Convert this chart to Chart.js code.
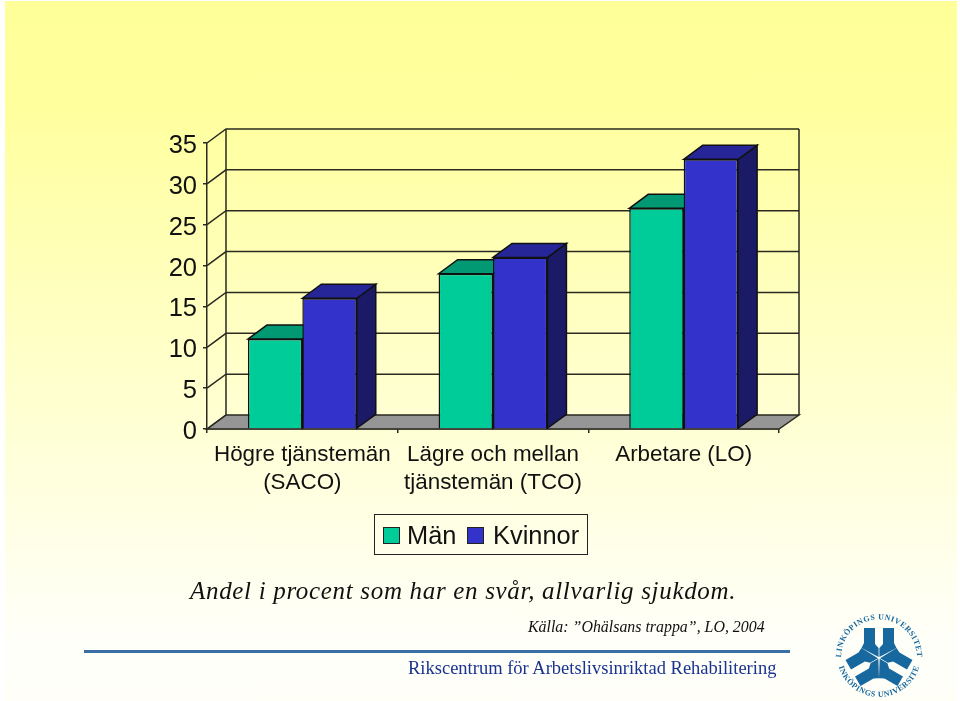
<!DOCTYPE html>
<html lang="sv">
<head>
<meta charset="utf-8">
<title>Andel i procent</title>
<script src="https://cdn.jsdelivr.net/npm/chart.js@4"></script>
<style>
  html, body { margin:0; padding:0; width:960px; height:701px; overflow:hidden; background:#fff; }
  #bg { position:absolute; left:5px; top:1px; width:952px; height:700px; background:linear-gradient(to bottom,#FFFF99 0%,#FFFF9E 15%,#FFFFFA 92%,#FFFFF8 100%); }
  canvas { position:absolute; left:0; top:0; }
  .txt { position:absolute; white-space:nowrap; line-height:1; }
  #title { left:190px; top:577px; font:italic 25px "Liberation Serif",serif; letter-spacing:0.68px; color:#111; }
  #source { left:528px; top:618px; font:italic 15.9px "Liberation Serif",serif; color:#111; }
  #rule { position:absolute; left:84px; top:650px; width:706px; height:3px; background:#3A6EA5; }
  #org { left:408px; top:658px; font:18.5px "Liberation Serif",serif; color:#1A3390; }
  #logo { position:absolute; left:829px; top:608px; }
</style>
</head>
<body>
<div id="bg"></div>
<canvas id="chart" width="960" height="701"></canvas>
<div class="txt" id="title">Andel i procent som har en svår, allvarlig sjukdom.</div>
<div class="txt" id="source">Källa: ”Ohälsans trappa”, LO, 2004</div>
<div id="rule"></div>
<div class="txt" id="org">Rikscentrum för Arbetslivsinriktad Rehabilitering</div>
<svg id="logo" width="100" height="100" viewBox="-50 -50 100 100">
  <defs>
    <path id="arcTop" d="M -37 8 A 38 38 0 1 1 37 8"/>
    <path id="arcBot" d="M -41 6 A 42 42 0 0 0 41 6"/>
    <path id="arm" d="M-15 -30 L-4 -30 L-4 -14 L-0.4 -10 L-0.4 -1 L-17.5 -10.1 L-15 -15 Z"/>
  </defs>
  <g fill="#17689F">
    <use href="#arm"/><use href="#arm" transform="scale(-1,1)"/>
    <use href="#arm" transform="rotate(120)"/><use href="#arm" transform="rotate(120) scale(-1,1)"/>
    <use href="#arm" transform="rotate(240)"/><use href="#arm" transform="rotate(240) scale(-1,1)"/>
  </g>
  <g font-family="Liberation Serif" font-size="8" font-weight="bold" fill="#17689F" letter-spacing="0.5">
    <text><textPath href="#arcTop" startOffset="50%" text-anchor="middle">LINKÖPINGS UNIVERSITET</textPath></text>
    <text><textPath href="#arcBot" startOffset="50%" text-anchor="middle">LINKÖPINGS UNIVERSITET</textPath></text>
  </g>
</svg>
<script>
// --- Données ---
const categories = [['Högre tjänstemän','(SACO)'],['Lägre och mellan','tjänstemän (TCO)'],'Arbetare (LO)'];
const manValues = [11,19,27];
const kvinnorValues = [16,21,33];
const yTicks = [0,5,10,15,20,25,30,35];

const depthX = 19, depthY = 14;
const lineCol = '#2a2a20';

function poly(ctx, pts, fill) {
  ctx.beginPath();
  pts.forEach((p,i)=> i ? ctx.lineTo(p[0],p[1]) : ctx.moveTo(p[0],p[1]));
  ctx.closePath();
  if (fill) { ctx.fillStyle = fill; ctx.fill(); }
  ctx.stroke();
}

// mur du fond + sol + faces 3D des barres
const walls3d = {
  id:'walls3d',
  beforeDatasetsDraw(chart) {
    const {ctx, chartArea:a, scales:{y}} = chart;
    ctx.save();
    ctx.strokeStyle = lineCol; ctx.lineWidth = 1.5;
    poly(ctx, [[a.left,a.bottom],[a.left+depthX,a.bottom-depthY],[a.right+depthX+1,a.bottom-depthY],[a.right,a.bottom]], '#969696');
    yTicks.forEach(v => {
      const py = y.getPixelForValue(v);
      ctx.beginPath();
      ctx.moveTo(a.left,py); ctx.lineTo(a.left+depthX,py-depthY);
      if (v > 0) ctx.lineTo(a.right+depthX+1,py-depthY);
      ctx.stroke();
    });
    ctx.beginPath();
    ctx.moveTo(a.left+depthX,a.bottom-depthY); ctx.lineTo(a.left+depthX,a.top-depthY);
    ctx.moveTo(a.right+depthX+1,a.bottom-depthY); ctx.lineTo(a.right+depthX+1,a.top-depthY);
    ctx.stroke();
    // faces dessus et côté
    ctx.strokeStyle = '#111';
    chart.data.datasets.forEach((ds,i) => {
      chart.getDatasetMeta(i).data.forEach(bar => {
        const l = bar.x-bar.width/2, r = bar.x+bar.width/2, t = bar.y, b = bar.base;
        poly(ctx, [[r,b],[r+depthX,b-depthY],[r+depthX,t-depthY],[r,t]], ds.sideColor);
        poly(ctx, [[l,t],[l+depthX,t-depthY],[r+depthX,t-depthY],[r,t]], ds.topColor);
      });
    });
    ctx.restore();
  },
  afterDraw(chart) {
    // légende encadrée
    const {ctx} = chart;
    ctx.save();
    ctx.strokeStyle = '#222'; ctx.lineWidth = 1;
    ctx.strokeRect(374.5,514.5,213,40);
    ctx.font = '25.4px "Liberation Sans"'; ctx.textBaseline = 'middle';
    const boxX = [383,467], textX = [407,493];
    chart.data.datasets.forEach((ds,i) => {
      ctx.fillStyle = ds.backgroundColor;
      ctx.fillRect(boxX[i]+.5,527.5,16,16); ctx.strokeRect(boxX[i]+.5,527.5,16,16);
      ctx.fillStyle = '#111';
      ctx.fillText(ds.label,textX[i],537);
    });
    ctx.restore();
  }
};

Chart.defaults.font.family = '"Liberation Sans"';
Chart.defaults.color = '#111';

new Chart(document.getElementById('chart').getContext('2d'), {
  type:'bar',
  data:{
    labels:categories,
    datasets:[
      { label:'Män', data:manValues, backgroundColor:'#00CC99', topColor:'#009973', sideColor:'#00664D', borderColor:'#111', borderWidth:1.5 },
      { label:'Kvinnor', data:kvinnorValues, backgroundColor:'#3333CC', topColor:'#262699', sideColor:'#1A1A66', borderColor:'#111', borderWidth:1.5 }
    ]
  },
  plugins:[walls3d],
  options:{
    responsive:false, animation:false, devicePixelRatio:1,
    layout:{ padding:{ left:0, top:143, right:181, bottom:0 } },
    plugins:{ legend:{display:false}, tooltip:{enabled:false} },
    datasets:{ bar:{ categoryPercentage:0.571, barPercentage:1 } },
    scales:{
      x:{
        afterFit(s){ s.height = 272; },
        border:{ color:lineCol, width:1.5 },
        grid:{ drawOnChartArea:false, tickLength:4, color:lineCol, lineWidth:1.5 },
        ticks:{ font:{ size:22.4, lineHeight:1.25 }, padding:8, maxRotation:0, autoSkip:false }
      },
      y:{
        min:0, max:35,
        afterFit(s){ s.width = 207; },
        afterBuildTicks(s){ s.ticks = yTicks.map(v=>({value:v})); },
        border:{ color:lineCol, width:1.5 },
        grid:{ drawOnChartArea:false, tickLength:4, color:lineCol, lineWidth:1.5 },
        ticks:{ font:{ size:25.5 }, padding:6, labelOffset:3 }
      }
    }
  }
});
</script>
</body>
</html>
